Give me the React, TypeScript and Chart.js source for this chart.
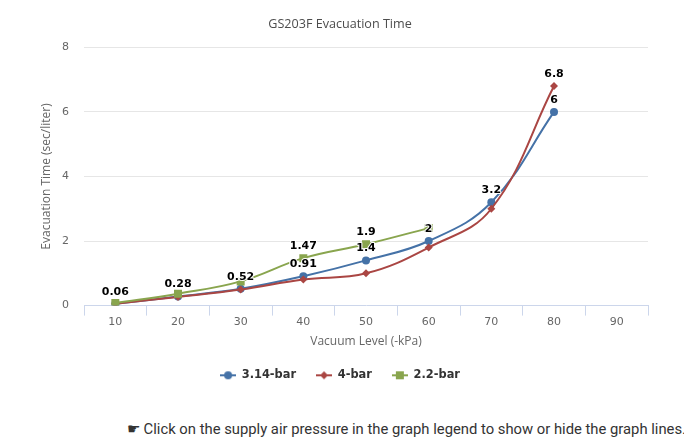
import React, { useEffect, useRef } from "react";
import { Chart, registerables } from "chart.js";

Chart.register(...registerables);

const categories = ["10", "20", "30", "40", "50", "60", "70", "80", "90"];
const seriesNames = ["3.14-bar", "4-bar", "2.2-bar"];
const blueValues = [0.06, 0.28, 0.52, 0.91, 1.4, 2, 3.2, 6, null];
const redValues = [0.06, 0.27, 0.5, 0.81, 1.0, 1.8, 3.0, 6.8, null];
const greenValues = [0.08, 0.37, 0.75, 1.47, 1.9, 2.4, null, null, null];
const yTicks = [0, 2, 4, 6, 8];

const colors = ["#4572A7", "#AA4643", "#89A54E"];
const markerStyles = ["circle", "rectRot", "rect"];
const markerRadii = [4, 4, 5.66];

function makeLegendIcon(color: string, style: string): HTMLCanvasElement {
  const c = document.createElement("canvas");
  c.width = 16;
  c.height = 10;
  const g = c.getContext("2d")!;
  g.strokeStyle = color;
  g.lineWidth = 2;
  g.beginPath();
  g.moveTo(0, 5);
  g.lineTo(16, 5);
  g.stroke();
  g.fillStyle = color;
  g.beginPath();
  if (style === "circle") {
    g.arc(8, 5, 4, 0, Math.PI * 2);
  } else if (style === "rectRot") {
    g.moveTo(8, 1);
    g.lineTo(12, 5);
    g.lineTo(8, 9);
    g.lineTo(4, 5);
    g.closePath();
  } else {
    g.rect(4, 1, 8, 8);
  }
  g.fill();
  return c;
}

const labelPlugin = {
  id: "pointLabels",
  afterDatasetsDraw(chart: any) {
    const ctx = chart.ctx;
    ctx.save();
    ctx.font = 'bold 11px "DejaVu Sans"';
    ctx.textAlign = "center";
    ctx.textBaseline = "middle";
    const placed: { l: number; r: number; t: number; b: number }[] = [];
    const priority = [0, 2, 1];
    for (const di of priority) {
      if (!chart.isDatasetVisible(di)) continue;
      const meta = chart.getDatasetMeta(di);
      const data = chart.data.datasets[di].data;
      meta.data.forEach((pt: any, i: number) => {
        const v = data[i];
        if (v == null) return;
        const text = String(v);
        const w = ctx.measureText(text).width + 4;
        const h = 14;
        const cx = pt.x;
        const cy = pt.y - 12;
        const box = { l: cx - w / 2, r: cx + w / 2, t: cy - h / 2, b: cy + h / 2 };
        const hit = placed.some(
          (b) => !(box.r < b.l || box.l > b.r || box.b < b.t || box.t > b.b)
        );
        if (hit) return;
        placed.push(box);
        ctx.lineWidth = 2;
        ctx.lineJoin = "round";
        ctx.strokeStyle = "#ffffff";
        ctx.strokeText(text, cx, cy);
        ctx.fillStyle = "#000000";
        ctx.fillText(text, cx, cy);
      });
    }
    ctx.restore();
  },
};

export default function App() {
  const ref = useRef<HTMLCanvasElement>(null);

  useEffect(() => {
    if (!ref.current) return;
    const icons = colors.map((c, i) => makeLegendIcon(c, markerStyles[i]));
    const allValues = [blueValues, redValues, greenValues];
    const chart = new Chart(ref.current, {
      type: "line",
      data: {
        labels: categories,
        datasets: allValues.map((vals, i) => ({
          label: seriesNames[i],
          data: vals,
          borderColor: colors[i],
          backgroundColor: colors[i],
          pointBackgroundColor: colors[i],
          pointBorderWidth: 0,
          pointRadius: markerRadii[i],
          pointHoverRadius: markerRadii[i],
          pointStyle: markerStyles[i] as any,
          borderWidth: 2,
          tension: 0.4,
          fill: false,
          order: 3 - i,
        })),
      },
      options: {
        animation: false,
        responsive: true,
        maintainAspectRatio: false,
        layout: { padding: { left: 24, right: 36, top: 1, bottom: 17 } },
        plugins: {
          tooltip: { enabled: false },
          title: {
            display: true,
            text: "GS203F Evacuation Time",
            color: "#4d4d4d",
            font: { family: "'Open Sans'", size: 12.6, weight: "normal" },
            padding: { top: 8, bottom: 15.2 },
          },
          legend: {
            position: "bottom",
            labels: {
              usePointStyle: true,
              pointStyleWidth: 16,
              padding: 20,
              color: "#333333",
              font: { family: "'DejaVu Sans'", size: 11.4, weight: "bold" },
              generateLabels: (ch: any) =>
                ch.data.datasets.map((ds: any, i: number) => ({
                  text: ds.label,
                  fillStyle: colors[i],
                  strokeStyle: colors[i],
                  lineWidth: 0,
                  hidden: !ch.isDatasetVisible(i),
                  datasetIndex: i,
                  pointStyle: icons[i],
                  fontColor: "#333333",
                })),
            },
          },
        },
        scales: {
          x: {
            type: "category",
            offset: true,
            grid: {
              offset: true,
              drawOnChartArea: false,
              drawTicks: true,
              tickLength: 10,
              color: "#ccd6eb",
            },
            border: { display: true, color: "#ccd6eb", width: 1 },
            ticks: {
              padding: 0,
              color: "#666666",
              font: { family: "'DejaVu Sans'", size: 11 },
              maxRotation: 0,
            },
            title: {
              display: true,
              text: "Vacuum Level (-kPa)",
              color: "#666666",
              font: { family: "'Open Sans'", size: 12 },
              padding: { top: 0, bottom: 0.8 },
            },
            afterFit: (s: any) => {
              s.height = 44;
            },
          } as any,
          y: {
            min: 0,
            max: 8,
            afterBuildTicks: (s: any) => {
              s.ticks = yTicks.map((v) => ({ value: v }));
            },
            grid: {
              drawTicks: false,
              color: (c: any) => (c.tick && c.tick.value === 0 ? "rgba(0,0,0,0)" : "#e6e6e6"),
            },
            border: { display: false },
            ticks: {
              padding: 15,
              color: "#666666",
              font: { family: "'DejaVu Sans'", size: 11 },
            },
            title: {
              display: true,
              text: "Evacuation Time (sec/liter)",
              color: "#666666",
              font: { family: "'Open Sans'", size: 12 },
              padding: { top: 7.8, bottom: 0 },
            },
            afterFit: (s: any) => {
              s.width = 52;
            },
          } as any,
        },
      },
      plugins: [labelPlugin],
    });
    return () => chart.destroy();
  }, []);

  return (
    <div>
      <div style={{ position: "relative", width: 676, height: 400 }}>
        <canvas ref={ref} style={{ display: "block" }} />
      </div>
      <div
        style={{
          width: 678,
          marginTop: 12,
          textAlign: "right",
          fontFamily: "Roboto, sans-serif",
          fontSize: 14.8,
          color: "#333333",
          whiteSpace: "nowrap",
        }}
      >
        ☛ Click on the supply air pressure in the graph legend to show or hide the graph lines.
      </div>
    </div>
  );
}
